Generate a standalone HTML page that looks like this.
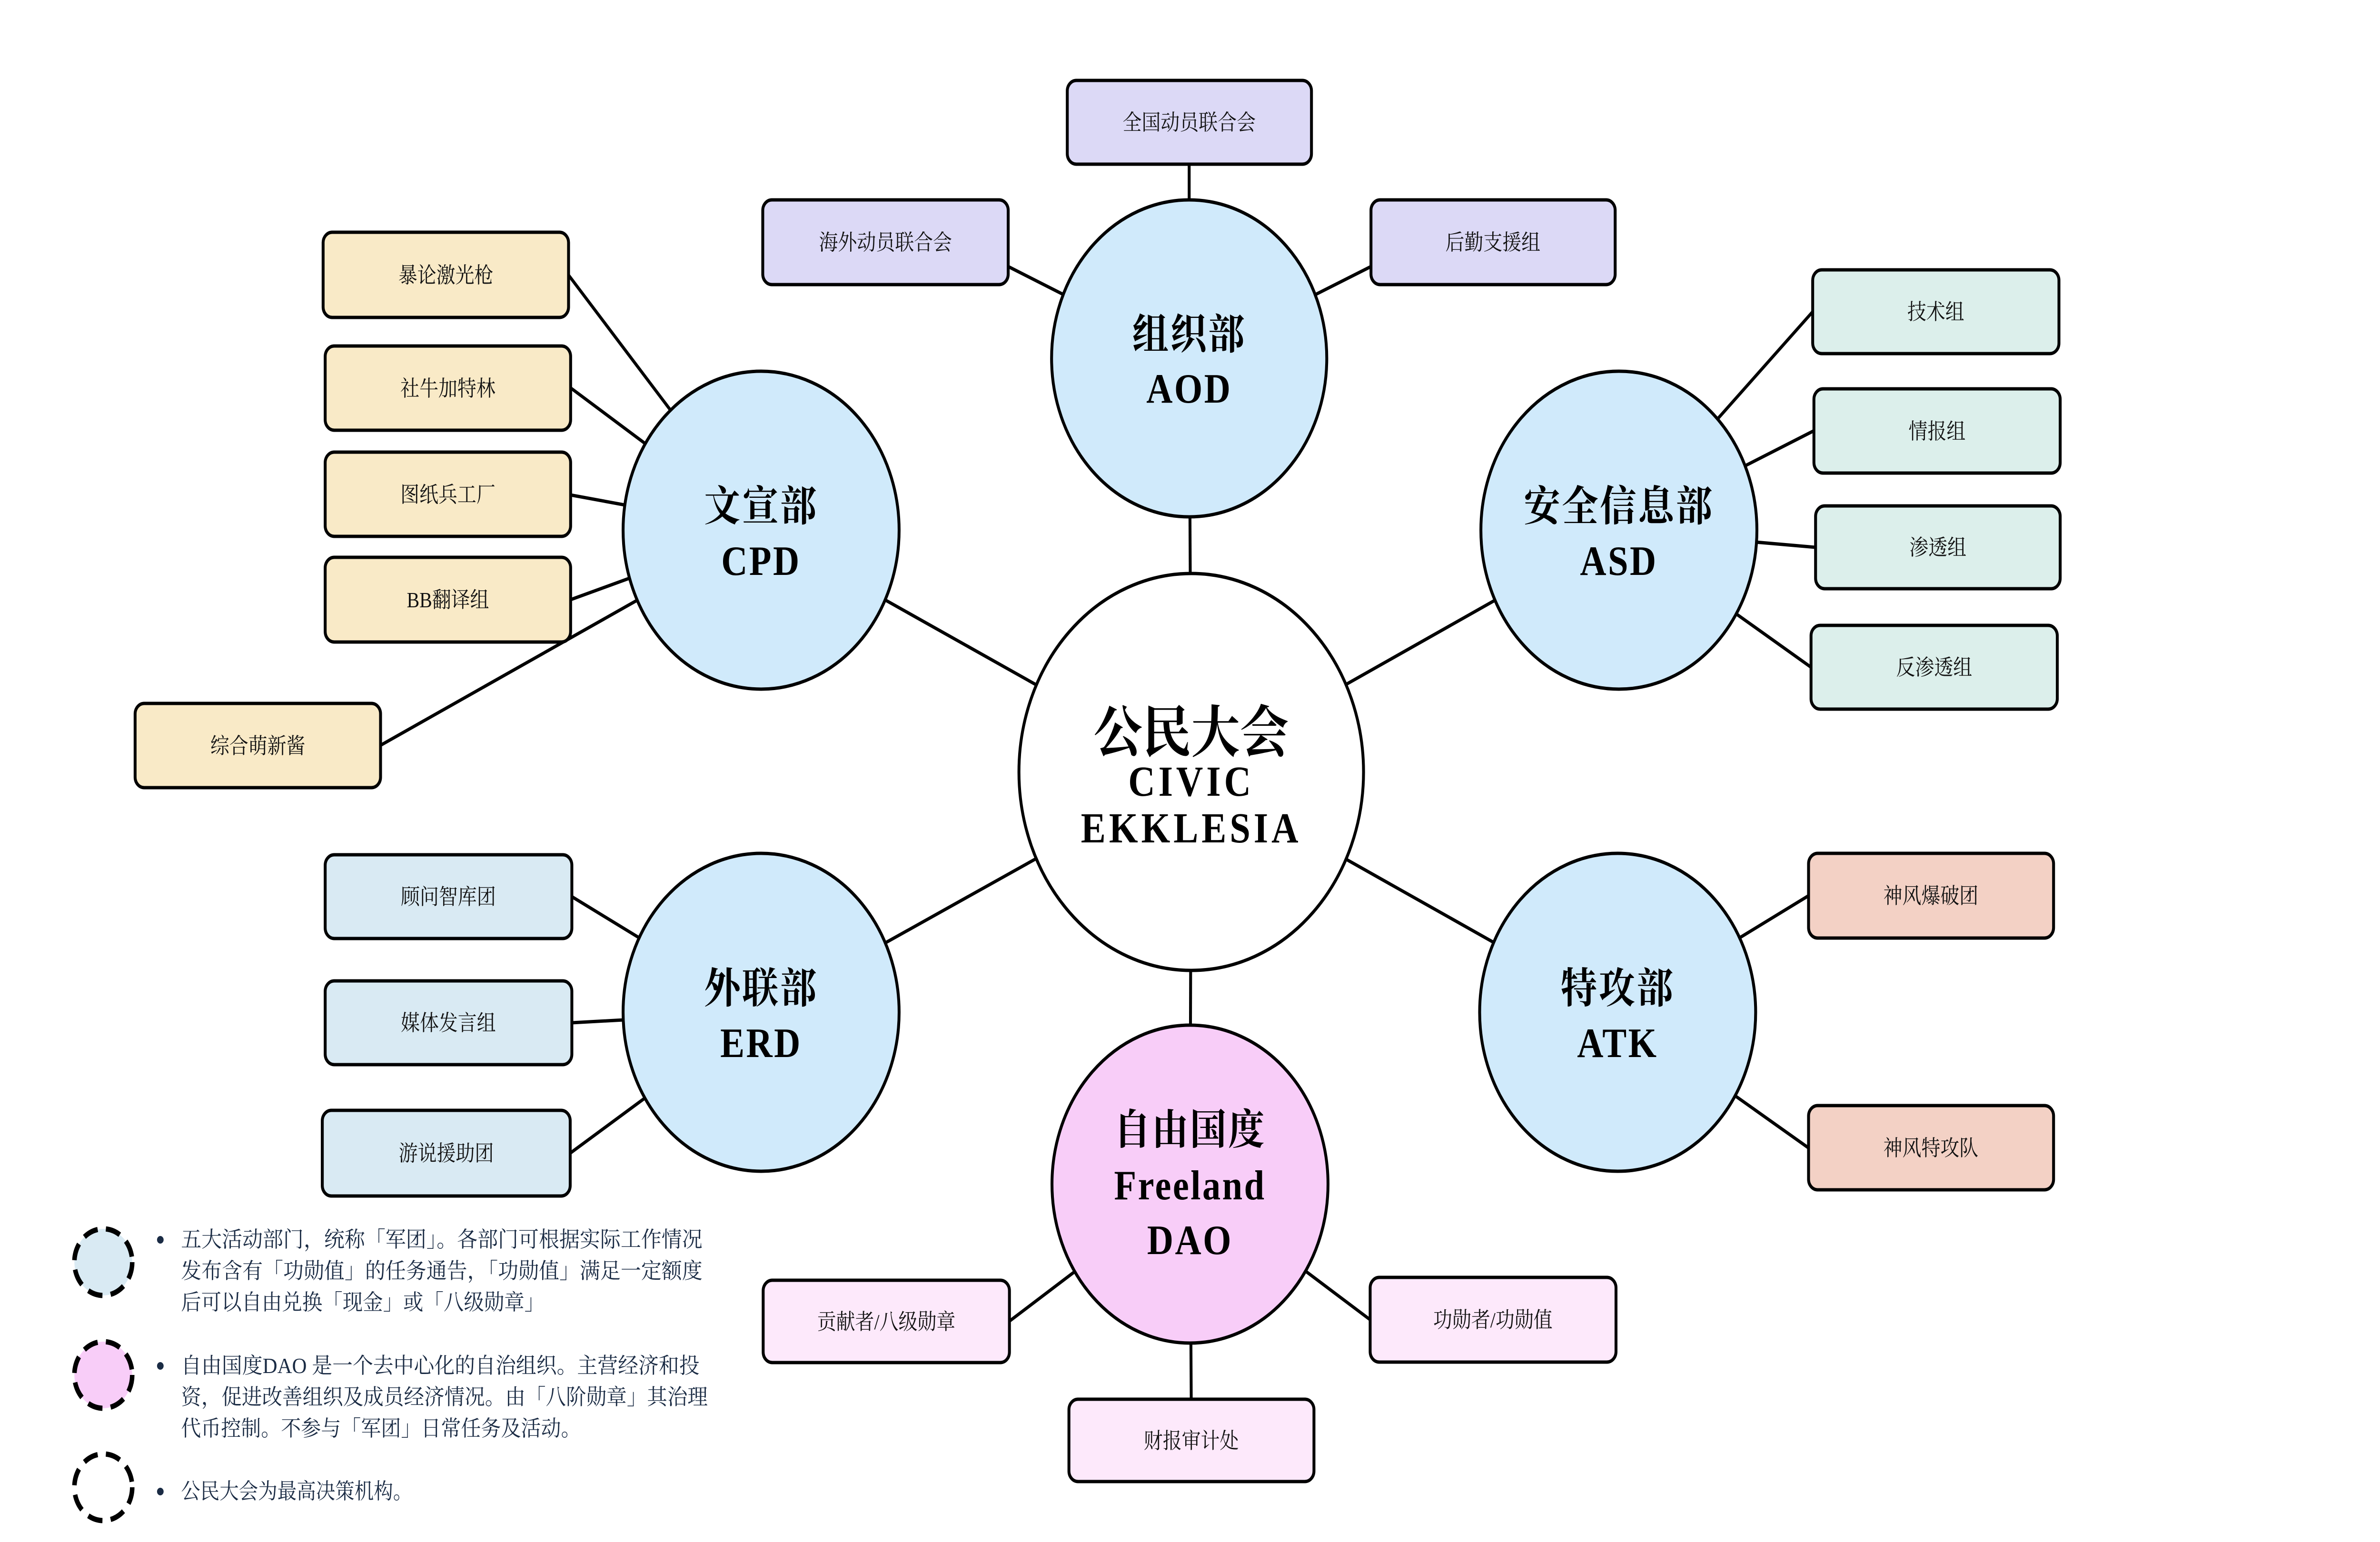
<!DOCTYPE html>
<html><head><meta charset="utf-8"><style>
html,body{margin:0;padding:0;background:#fff;overflow:hidden;width:100vw;height:100vh;}
svg{display:block;width:100vw;height:100vh;}
text{font-family:"Liberation Serif","Noto Serif CJK SC",serif;}
</style></head><body>
<svg viewBox="0 0 5760 3240" preserveAspectRatio="none" xmlns="http://www.w3.org/2000/svg">
<rect width="5760" height="3240" fill="#fff"/>
<g stroke="#000" stroke-width="7" fill="none">
<line x1="2883" y1="1622" x2="2878" y2="753"/>
<line x1="2883" y1="1622" x2="1842" y2="1114"/>
<line x1="2883" y1="1622" x2="3918" y2="1114"/>
<line x1="2883" y1="1622" x2="1842" y2="2127"/>
<line x1="2883" y1="1622" x2="3915" y2="2127"/>
<line x1="2883" y1="1622" x2="2880" y2="2488"/>
<line x1="2878" y1="753" x2="2878" y2="345"/>
<line x1="2878" y1="753" x2="2440" y2="560"/>
<line x1="2878" y1="753" x2="3318" y2="560"/>
<line x1="1842" y1="1114" x2="1376" y2="578"/>
<line x1="1842" y1="1114" x2="1381" y2="815"/>
<line x1="1842" y1="1114" x2="1381" y2="1040"/>
<line x1="1842" y1="1114" x2="1381" y2="1260"/>
<line x1="1842" y1="1114" x2="921" y2="1566"/>
<line x1="3918" y1="1114" x2="4387" y2="655"/>
<line x1="3918" y1="1114" x2="4390" y2="905"/>
<line x1="3918" y1="1114" x2="4394" y2="1150"/>
<line x1="3918" y1="1114" x2="4383" y2="1402"/>
<line x1="1842" y1="2127" x2="1384" y2="1884"/>
<line x1="1842" y1="2127" x2="1384" y2="2149"/>
<line x1="1842" y1="2127" x2="1380" y2="2423"/>
<line x1="3915" y1="2127" x2="4377" y2="1882"/>
<line x1="3915" y1="2127" x2="4377" y2="2412"/>
<line x1="2880" y1="2488" x2="2443" y2="2776"/>
<line x1="2880" y1="2488" x2="3316" y2="2773"/>
<line x1="2880" y1="2488" x2="2883" y2="2940"/>
</g>

<g stroke="#000" stroke-width="7">
<circle cx="2883" cy="1622" r="417" fill="#fff"/>
<circle cx="2878" cy="753" r="333" fill="#d0eafb"/>
<circle cx="1842" cy="1114" r="334" fill="#d0eafb"/>
<circle cx="3918" cy="1114" r="334" fill="#d0eafb"/>
<circle cx="1842" cy="2127" r="334" fill="#d0eafb"/>
<circle cx="3915" cy="2127" r="334" fill="#d0eafb"/>
<circle cx="2880" cy="2488" r="334" fill="#f8cdf8"/>
</g>

<g stroke="#000" stroke-width="7">
<rect x="2583" y="169" width="591" height="176" rx="22" fill="#dcd9f6"/>
<rect x="1846" y="420" width="594" height="178" rx="22" fill="#dcd9f6"/>
<rect x="3318" y="420" width="591" height="178" rx="22" fill="#dcd9f6"/>
<rect x="782" y="488" width="594" height="179" rx="22" fill="#f9eac7"/>
<rect x="787" y="727" width="594" height="177" rx="22" fill="#f9eac7"/>
<rect x="787" y="950" width="594" height="177" rx="22" fill="#f9eac7"/>
<rect x="787" y="1171" width="594" height="178" rx="22" fill="#f9eac7"/>
<rect x="327" y="1478" width="594" height="177" rx="22" fill="#f9eac7"/>
<rect x="4387" y="567" width="596" height="176" rx="22" fill="#dcefeb"/>
<rect x="4390" y="817" width="596" height="177" rx="22" fill="#dcefeb"/>
<rect x="4394" y="1063" width="592" height="174" rx="22" fill="#dcefeb"/>
<rect x="4383" y="1314" width="596" height="176" rx="22" fill="#dcefeb"/>
<rect x="4377" y="1793" width="593" height="178" rx="22" fill="#f3d1c5"/>
<rect x="4377" y="2323" width="593" height="177" rx="22" fill="#f3d1c5"/>
<rect x="787" y="1796" width="597" height="176" rx="22" fill="#d9eaf3"/>
<rect x="787" y="2061" width="597" height="176" rx="22" fill="#d9eaf3"/>
<rect x="780" y="2333" width="600" height="180" rx="22" fill="#d9eaf3"/>
<rect x="1847" y="2690" width="596" height="173" rx="22" fill="#fde9fb"/>
<rect x="3316" y="2684" width="595" height="178" rx="22" fill="#fde9fb"/>
<rect x="2587" y="2940" width="593" height="173" rx="22" fill="#fde9fb"/>
</g>

<g font-size="46" text-anchor="middle" fill="#111">
<text x="2878" y="273">全国动员联合会</text>
<text x="2143" y="525">海外动员联合会</text>
<text x="3613" y="525">后勤支援组</text>
<text x="1079" y="594">暴论激光枪</text>
<text x="1084" y="832">社牛加特林</text>
<text x="1084" y="1055">图纸兵工厂</text>
<text x="1084" y="1276">BB翻译组</text>
<text x="624" y="1583">综合萌新酱</text>
<text x="4685" y="671">技术组</text>
<text x="4688" y="922">情报组</text>
<text x="4690" y="1166">渗透组</text>
<text x="4681" y="1418">反渗透组</text>
<text x="4673" y="1898">神风爆破团</text>
<text x="4673" y="2428">神风特攻队</text>
<text x="1085" y="1900">顾问智库团</text>
<text x="1085" y="2165">媒体发言组</text>
<text x="1080" y="2439">游说援助团</text>
<text x="2145" y="2793">贡献者/八级勋章</text>
<text x="3613" y="2789">功勋者/功勋值</text>
<text x="2883" y="3043">财报审计处</text>
</g>

<g font-size="88" font-weight="bold" text-anchor="middle" fill="#000" letter-spacing="4">
<text x="2878" y="733">组织部</text>
<text x="2878" y="846">AOD</text>
<text x="1842" y="1094">文宣部</text>
<text x="1842" y="1208">CPD</text>
<text x="3918" y="1094">安全信息部</text>
<text x="3918" y="1208">ASD</text>
<text x="1842" y="2107">外联部</text>
<text x="1842" y="2221">ERD</text>
<text x="3915" y="2107">特攻部</text>
<text x="3915" y="2221">ATK</text>
<text x="2880" y="2404">自由国度</text>
<text x="2880" y="2520">Freeland</text>
<text x="2880" y="2635">DAO</text>
</g>
<g text-anchor="middle" fill="#000" font-weight="bold">
<text x="2883" y="1580" font-size="118">公民大会</text>
<text x="2883" y="1672" font-size="90" letter-spacing="8">CIVIC</text>
<text x="2883" y="1770" font-size="90" letter-spacing="8">EKKLESIA</text>
</g>

<g stroke="#000" stroke-width="11" stroke-dasharray="36 20">
<ellipse cx="250" cy="2652" rx="70" ry="70" fill="#d9eaf3"/>
<ellipse cx="250" cy="2889" rx="70" ry="70" fill="#f8cdf8"/>
<ellipse cx="250" cy="3125" rx="70" ry="70" fill="#fff"/>
</g>

<g font-size="46" fill="#1a2b44">
<circle cx="388" cy="2605" r="8"/>
<circle cx="388" cy="2870" r="8"/>
<circle cx="388" cy="3134" r="8"/>
<text x="438" y="2620" textLength="1262" lengthAdjust="spacingAndGlyphs">五大活动部门，统称「军团」。各部门可根据实际工作情况</text>
<text x="438" y="2686" textLength="1262" lengthAdjust="spacingAndGlyphs">发布含有「功勋值」的任务通告，「功勋值」满足一定额度</text>
<text x="438" y="2752" textLength="880" lengthAdjust="spacingAndGlyphs">后可以自由兑换「现金」或「八级勋章」</text>
<text x="438" y="2885" textLength="1255" lengthAdjust="spacingAndGlyphs">自由国度DAO 是一个去中心化的自治组织。主营经济和投</text>
<text x="438" y="2951" textLength="1275" lengthAdjust="spacingAndGlyphs">资，促进改善组织及成员经济情况。由「八阶勋章」其治理</text>
<text x="438" y="3017" textLength="968" lengthAdjust="spacingAndGlyphs">代币控制。不参与「军团」日常任务及活动。</text>
<text x="438" y="3149" textLength="560" lengthAdjust="spacingAndGlyphs">公民大会为最高决策机构。</text>
</g>
</svg>
</body></html>
